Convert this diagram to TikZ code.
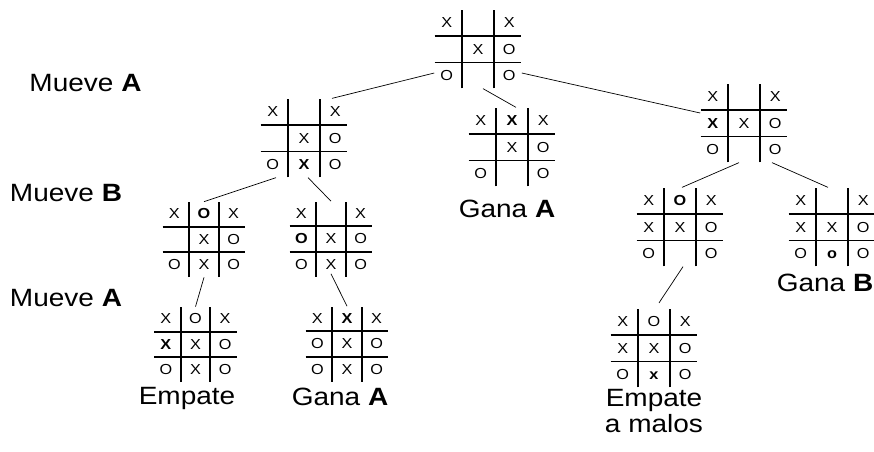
\documentclass[tikz,border=0pt]{standalone}
\usepackage{fontspec}
\setmainfont{Liberation Sans}[FakeStretch=1.12]
\usepackage{array}
\usetikzlibrary{positioning}

\newlength\cellw
\newcolumntype{C}{>{\centering\arraybackslash}p{\cellw}}
\setlength\arrayrulewidth{1.8pt}

\tikzset{
  board/.style={inner sep=0pt, font=\fontsize{14.5}{17}\selectfont,
    execute at begin node={\setlength\tabcolsep{2.6pt}\setlength\cellw{24.3pt}\renewcommand\arraystretch{1.47}}},
  small board/.style={inner sep=0pt, font=\fontsize{14.5}{17}\selectfont,
    execute at begin node={\setlength\tabcolsep{2.15pt}\setlength\cellw{23.5pt}\renewcommand\arraystretch{1.40}}},
  movetext/.style={inner sep=0pt, font=\fontsize{25}{26}\selectfont}
}

\begin{document}
\begin{tikzpicture}[on grid, line width=0.7pt]
  \useasboundingbox (0,0) rectangle (874pt,-451pt);
  \node[board] (b0) at (478pt,-49pt) {\begin{tabular}{@{}C|C|C@{}}X & & X\\\hline & X & O\\\hline O & & O\end{tabular}};
  \node[board] (b1) [below left=89pt and 174pt of b0] {\begin{tabular}{@{}C|C|C@{}}X & & X\\\hline & X & O\\\hline O & \textbf{X} & O\end{tabular}};
  \node[board] (b2) [below right=98pt and 34pt of b0] {\begin{tabular}{@{}C|C|C@{}}X & \textbf{X} & X\\\hline & X & O\\\hline O & & O\end{tabular}};
  \node[board] (b3) [below right=74pt and 266pt of b0] {\begin{tabular}{@{}C|C|C@{}}X & & X\\\hline \textbf{X} & X & O\\\hline O & & O\end{tabular}};
  \node[small board] (b11) [below left=101.5pt and 100pt of b1] {\begin{tabular}{@{}C|C|C@{}}X & \textbf{O} & X\\\hline & X & O\\\hline O & X & O\end{tabular}};
  \node[small board] (b12) [below right=101pt and 27pt of b1] {\begin{tabular}{@{}C|C|C@{}}X & & X\\\hline \textbf{O} & X & O\\\hline O & X & O\end{tabular}};
  \node[small board] (b111) [below left=105pt and 8.5pt of b11] {\begin{tabular}{@{}C|C|C@{}}X & O & X\\\hline \textbf{X} & X & O\\\hline O & X & O\end{tabular}};
  \node[small board] (b121) [below right=105pt and 16pt of b12] {\begin{tabular}{@{}C|C|C@{}}X & \textbf{X} & X\\\hline O & X & O\\\hline O & X & O\end{tabular}};
  \node[board] (b31) [below left=104pt and 64pt of b3] {\begin{tabular}{@{}C|C|C@{}}X & \textbf{O} & X\\\hline X & X & O\\\hline O & & O\end{tabular}};
  \node[board] (b32) [below right=104pt and 88pt of b3] {\begin{tabular}{@{}C|C|C@{}}X & & X\\\hline X & X & O\\\hline O & \textbf{o} & O\end{tabular}};
  \node[board] (b311) [below left=121pt and 26pt of b31] {\begin{tabular}{@{}C|C|C@{}}X & O & X\\\hline X & X & O\\\hline O & \textbf{x} & O\end{tabular}};

  % who moves
  \node[movetext] (mueve1) [below left=34pt and 392.5pt of b0] {Mueve \textbf{A}};
  \node[movetext] (mueve2) [below left=55pt and 238pt of b1] {Mueve \textbf{B}};
  \node[movetext] (mueve3) [below=105pt of mueve2] {Mueve \textbf{A}};

  % outcomes
  \node[movetext] (gana1) [below left=62pt and 5pt of b2] {Gana \textbf{A}};
  \node[movetext] (empate1) [below left=53.5pt and 8.5pt of b111] {Empate};
  \node[movetext] (gana2) [below left=53pt and 7pt of b121] {Gana \textbf{A}};
  \node[movetext] (gana3) [below left=56pt and 7pt of b32] {Gana \textbf{B}};
  \node[movetext, align=center] (empate2) [below=63pt of b311] {Empate\\a malos};

  \path
  ([yshift=-24pt]b0.west) edge ([xshift=28pt]b1.north)
  ([xshift=5pt]b0.south) edge ([xshift=4pt]b2.north)
  ([yshift=-24pt]b0.east) edge ([yshift=10pt]b3.west)
  ([xshift=-28pt]b1.south) edge (b11.north)
  ([xshift=4pt]b1.south) edge (b12.north)
  (b11.south) edge (b111.north)
  ([yshift=3pt]b12.south) edge (b121.north)
  ([xshift=-5pt]b3.south) edge ([xshift=2pt]b31.north)
  ([xshift=28pt]b3.south) edge ([xshift=-4pt]b32.north)
  ([xshift=3pt]b31.south) edge ([xshift=5pt,yshift=5.5pt]b311.north)
  ;
\end{tikzpicture}
\end{document}
